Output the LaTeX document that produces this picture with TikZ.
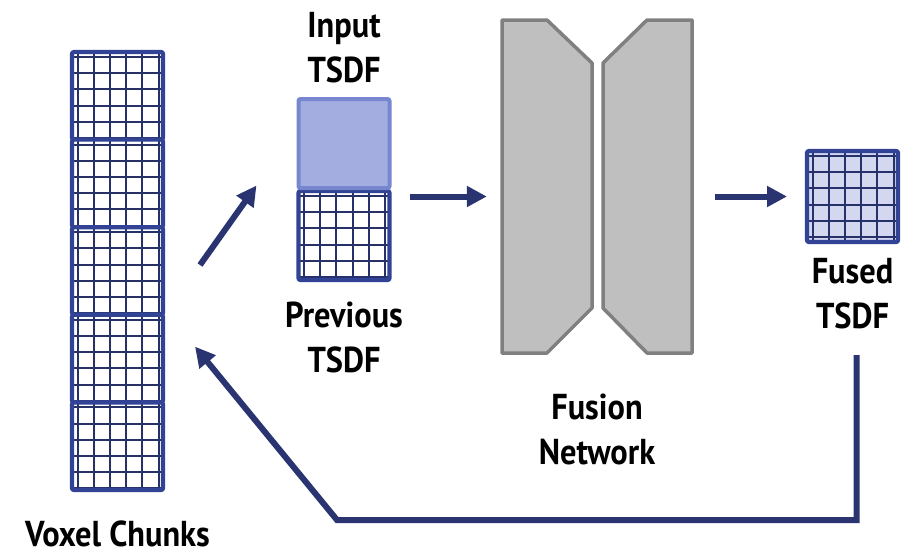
\documentclass[tikz,border=0pt]{standalone}
\usepackage{fontspec}
\setmainfont{PT Sans}[FakeStretch=0.9]
\usepackage{tikz}
\usetikzlibrary{positioning,calc,arrows.meta}

\definecolor{chunkblue}{RGB}{50,66,148}
\definecolor{gridnavy}{RGB}{38,48,105}
\definecolor{flownavy}{RGB}{41,52,112}
\definecolor{inpfill}{RGB}{163,173,223}
\definecolor{inpdraw}{RGB}{120,134,208}
\definecolor{fusedfill}{RGB}{211,216,240}
\definecolor{netfill}{RGB}{191,191,191}
\definecolor{netdraw}{RGB}{128,128,128}

\tikzset{
  gridline/.style={draw=gridnavy, line width=2pt},
  voxgrid/.style={draw=chunkblue, fill=white, line width=4.2pt, rounded corners=2pt,
    inner sep=0pt, outer sep=0pt, minimum width=91pt, minimum height=#1,
    path picture={
      \foreach \k in {0,...,5}{
        \draw[gridline] ([xshift=5.5pt+\k*16.2pt]path picture bounding box.north west) -- ++(0pt,-120pt);
        \draw[gridline] ([yshift=-5pt-\k*16.2pt]path picture bounding box.north west) -- ++(120pt,0pt);
      }
    }},
  inbox/.style={draw=inpdraw, fill=inpfill, line width=4pt, rounded corners=2pt,
    inner sep=0pt, outer sep=0pt, minimum width=91pt, minimum height=89pt},
  netblock/.style={draw=netdraw, fill=netfill, line width=3.5pt, line join=round},
  flow/.style={draw=flownavy, line width=6pt, -{Triangle[length=20pt,width=20pt]}},
  lbl/.style={font=\fontsize{36}{45}\selectfont\bfseries, align=center, inner sep=0pt},
}

\begin{document}
\begin{tikzpicture}[x=1pt, y=-1pt]
  \useasboundingbox (0,0) rectangle (914,558);

  % Voxel chunks column
  \node[voxgrid=87.6pt] (c1) at (117.5,95.8) {};
  \node[voxgrid=87.6pt, below=0pt of c1] (c2) {};
  \node[voxgrid=87.6pt, below=0pt of c2] (c3) {};
  \node[voxgrid=87.6pt, below=0pt of c3] (c4) {};
  \node[voxgrid=87.6pt, below=0pt of c4] (c5) {};
  \node[lbl, below=31pt of c5] (chunklbl) {Voxel Chunks};

  % Previous and input TSDF
  \node[voxgrid=89pt] (prev) at (344,235.5) {};
  \node[inbox, above=3pt of prev] (inp) {};
  \node[lbl, above=16pt of inp] (inplbl) {Input\\TSDF};
  \node[lbl, below=22pt of prev] (prevlbl) {Previous\\TSDF};

  % Fusion network
  \node[minimum width=190pt, minimum height=333pt, inner sep=0pt] (net) at (597,186.5) {};
  \draw[netblock] (502,20) -- (547,20) -- (592,63) -- (592,308) -- (547,353) -- (502,353) -- cycle;
  \draw[netblock] (692,20) -- (647,20) -- (603,63) -- (603,308) -- (647,353) -- (692,353) -- cycle;
  \node[lbl, below=40pt of net] (netlbl) {Fusion\\Network};

  % Fused TSDF
  \node[voxgrid=91pt, fill=fusedfill] (fused) at (852.5,196.5) {};
  \node[lbl, below=16pt of fused] (fusedlbl) {Fused\\TSDF};

  % Data flow
  \draw[flow] ($(c3.east)+(37,-6)$) -- ($(prev.west)+(-42,-50)$);
  \draw[flow] ([xshift=20pt]prev.north east |- fused.west) -- ([xshift=-15pt]net.west |- fused.west);
  \draw[flow] ([xshift=23pt]net.east |- fused.west) -- ([xshift=-20pt]fused.west);
  \draw[flow, line join=miter] ([xshift=4pt,yshift=-26pt]fusedlbl.south) |- (337,520) -- ($(c4.east)+(32,-12)$);
\end{tikzpicture}
\end{document}
